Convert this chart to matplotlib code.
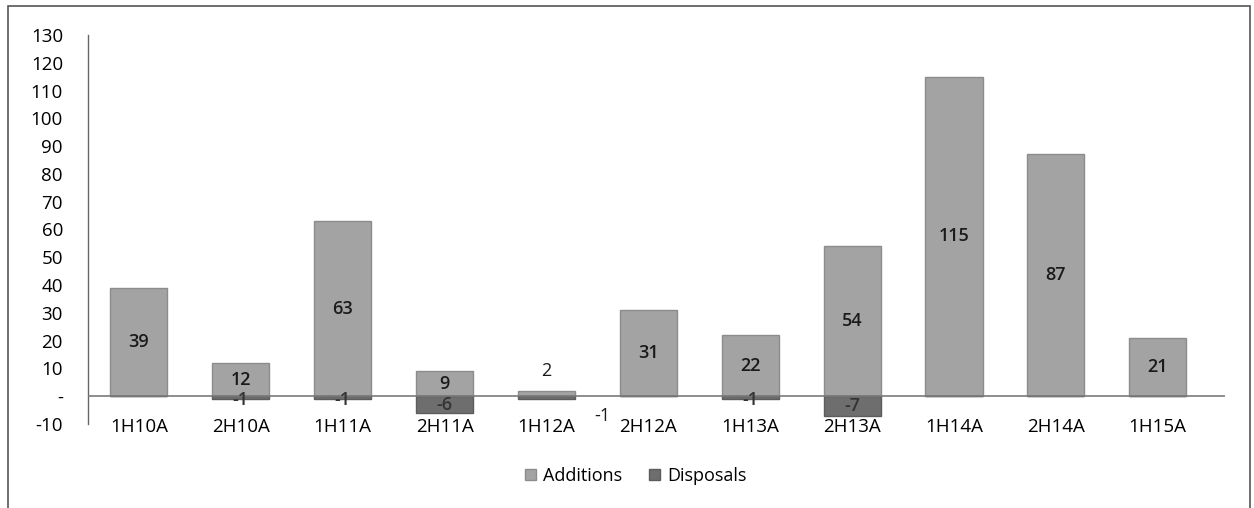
import matplotlib
matplotlib.use("Agg")
import matplotlib.pyplot as plt
from matplotlib.patches import Rectangle
import numpy as np

categories = ["1H10A", "2H10A", "1H11A", "2H11A", "1H12A", "2H12A",
              "1H13A", "2H13A", "1H14A", "2H14A", "1H15A"]
additions = [39, 12, 63, 9, 2, 31, 22, 54, 115, 87, 21]
disposals = [0, -1, -1, -6, -1, 0, -1, -7, 0, 0, 0]
yticks = list(range(-10, 140, 10))

plt.rcParams['font.family'] = ['Open Sans', 'DejaVu Sans']

fig = plt.figure(figsize=(12.54, 5.08), dpi=100)
ax = fig.add_axes([88/1254, 1-424/508, (1225-88)/1254, (424-35)/508])

x = np.arange(len(categories))
w = 0.56
add_c = '#a3a3a3'
dis_c = '#6e6e6e'
b1 = ax.bar(x, additions, w, color=add_c, edgecolor='#8c8c8c', linewidth=1, label='Additions', zorder=2)
b2 = ax.bar(x, disposals, w, color=dis_c, edgecolor='#5c5c5c', linewidth=1, label='Disposals', zorder=2)

ax.axhline(0, color='#7a7a7a', lw=1.2, zorder=3)

for i, v in enumerate(additions):
    if v >= 5:
        ax.text(x[i], v/2, str(v), ha='center', va='center', fontsize=13, fontweight='semibold', color='#1a1a1a', zorder=4)
    else:
        ax.text(x[i], v + 7, str(v), ha='center', va='center', fontsize=13, color='#1a1a1a', zorder=4)

for i, v in enumerate(disposals):
    if v == 0:
        continue
    if additions[i] < 5:
        ax.text(x[i] + 0.55, v - 6, str(v), ha='center', va='center', fontsize=13, color='#1a1a1a', zorder=4)
    else:
        ax.text(x[i], min(v/2, -1.5), str(v), ha='center', va='center', fontsize=13, fontweight='semibold', color='#333333', zorder=4)

ax.set_xlim(-0.5, 10.66)
ax.set_ylim(-10, 130)
ax.set_yticks(yticks)
ax.set_yticklabels(['-' if t == 0 else str(t) for t in yticks])
ax.set_xticks(x)
ax.set_xticklabels(categories)
ax.tick_params(axis='y', length=0, labelsize=13.5, pad=18)
ax.tick_params(axis='x', length=0, labelsize=13.5, pad=-4)
for s in ['top', 'right', 'bottom']:
    ax.spines[s].set_visible(False)
ax.spines['left'].set_color('#666666')
ax.spines['left'].set_linewidth(1)

leg = fig.legend(handles=[b1, b2], labels=['Additions', 'Disposals'], loc='center',
                 bbox_to_anchor=(636/1254, 1-476/508), ncol=2, frameon=False,
                 fontsize=13, handlelength=0.6, handleheight=0.6, handletextpad=0.4,
                 columnspacing=1.5)

fig.patches.append(Rectangle((8/1254, -0.02), (1250-8)/1254, 1-6/508+0.02,
                             transform=fig.transFigure, fill=False,
                             edgecolor='#555555', linewidth=1.2))

fig.savefig('out.png', dpi=100)
